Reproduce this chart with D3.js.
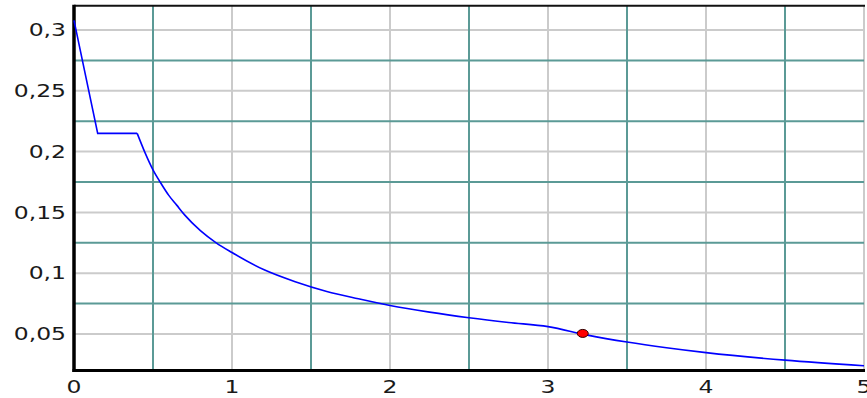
<!DOCTYPE html>
<html>
<head>
  <meta charset="utf-8">
  <title>spectrum</title>
  <style>
    body { margin: 0; background: #fff; }
    .lbl { font-family: "DejaVu Sans", Verdana, sans-serif; font-size: 17px; fill: #1a1a1a; }
  </style>
  <script src="https://d3js.org/d3.v7.min.js"></script>
</head>
<body>
  <script>
    // period T (s) and spectral value
    var periods = [0, 0.15, 0.4, 0.45, 0.5, 0.55, 0.6, 0.65, 0.7, 0.8, 0.9, 1.0, 1.2, 1.4, 1.6, 1.8, 2.0, 2.25, 2.5, 2.75, 3.0, 3.25, 3.5, 3.75, 4.0, 4.5, 5.0];
    var values  = [0.308, 0.215, 0.215, 0.199, 0.185, 0.174, 0.164, 0.156, 0.148, 0.135, 0.125, 0.117, 0.103, 0.093, 0.085, 0.079, 0.0735, 0.068, 0.0634, 0.0595, 0.0561, 0.0491, 0.0434, 0.0387, 0.0347, 0.0285, 0.0239];
    var marker = [3.22, 0.0505];

    var xTicks = [0, 1, 2, 3, 4, 5];
    var xMinor = [0.5, 1.5, 2.5, 3.5, 4.5];
    var yTicks = [0.05, 0.1, 0.15, 0.2, 0.25, 0.3];
    var yMinor = [0.075, 0.125, 0.175, 0.225, 0.275];

    var width = 867, height = 398;
    var sx = 1.38; // labels are drawn wide

    var svg = d3.select('body').append('svg')
      .attr('width', width).attr('height', height);

    var x = d3.scaleLinear().domain([0, 5]).range([74, 864]);
    var y = d3.scaleLinear().domain([0.02, 0.32]).range([370.5, 5.7]);

    var grid = svg.append('g');
    // gray grid at labelled values
    grid.selectAll('.vg').data(xTicks.slice(1)).enter().append('line')
      .attr('x1', d => x(d)).attr('x2', d => x(d))
      .attr('y1', y(0.32)).attr('y2', y(0.02))
      .attr('stroke', '#cbcbcb').attr('stroke-width', 2);
    grid.selectAll('.hg').data(yTicks).enter().append('line')
      .attr('x1', x(0)).attr('x2', x(5))
      .attr('y1', d => y(d)).attr('y2', d => y(d))
      .attr('stroke', '#cbcbcb').attr('stroke-width', 2);
    // teal grid in between
    grid.selectAll('.vt').data(xMinor).enter().append('line')
      .attr('x1', d => x(d)).attr('x2', d => x(d))
      .attr('y1', y(0.32)).attr('y2', y(0.02))
      .attr('stroke', '#5b9a96').attr('stroke-width', 2);
    grid.selectAll('.ht').data(yMinor).enter().append('line')
      .attr('x1', x(0)).attr('x2', x(5))
      .attr('y1', d => y(d)).attr('y2', d => y(d))
      .attr('stroke', '#5b9a96').attr('stroke-width', 2);

    // frame: black left, bottom, top
    svg.append('line').attr('x1', x(0)).attr('x2', x(5) + 1).attr('y1', y(0.32)).attr('y2', y(0.32))
      .attr('stroke', '#111').attr('stroke-width', 2);
    svg.append('line').attr('x1', x(0)).attr('x2', x(0)).attr('y1', y(0.32) - 1).attr('y2', y(0.02) + 1.5)
      .attr('stroke', '#000').attr('stroke-width', 3.5);
    svg.append('line').attr('x1', x(0) - 1.5).attr('x2', x(5) + 1).attr('y1', y(0.02)).attr('y2', y(0.02))
      .attr('stroke', '#000').attr('stroke-width', 3);

    // curve: straight ramp and plateau, then smooth decay
    var pts = periods.map((t, i) => [t, values[i]]);
    var straight = d3.line().x(d => x(d[0])).y(d => y(d[1]));
    var smooth = d3.line().x(d => x(d[0])).y(d => y(d[1])).curve(d3.curveMonotoneX);
    svg.append('path').datum(pts.slice(0, 3))
      .attr('d', straight)
      .attr('fill', 'none').attr('stroke', '#0000ff').attr('stroke-width', 1.6);
    svg.append('path').datum(pts.slice(2))
      .attr('d', smooth)
      .attr('fill', 'none').attr('stroke', '#0000ff').attr('stroke-width', 1.6);

    // marker
    svg.append('ellipse')
      .attr('cx', x(marker[0])).attr('cy', y(marker[1]))
      .attr('rx', 5.5).attr('ry', 4)
      .attr('fill', '#ff0000').attr('stroke', '#300').attr('stroke-width', 1);

    // labels
    svg.selectAll('.yl').data(yTicks).enter().append('text')
      .attr('class', 'lbl')
      .attr('transform', d => 'translate(66,' + y(d) + ') scale(' + sx + ',1)')
      .attr('text-anchor', 'end')
      .attr('dy', '0.36em')
      .text(d => String(d).replace('.', ','));

    svg.selectAll('.xl').data(xTicks).enter().append('text')
      .attr('class', 'lbl')
      .attr('transform', d => 'translate(' + x(d) + ',393) scale(' + sx + ',1)')
      .attr('text-anchor', 'middle')
      .text(d => d);
  </script>
</body>
</html>
